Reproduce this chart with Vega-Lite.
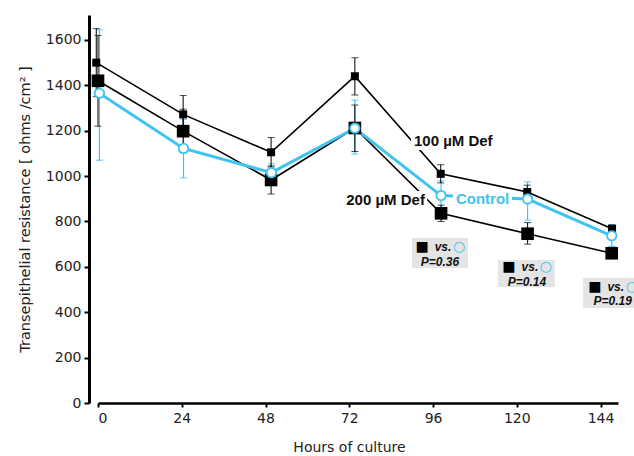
{
  "$schema": "https://vega.github.io/schema/vega-lite/v6.json",
  "width": 520,
  "height": 388,
  "autosize": {"type": "none"},
  "padding": {"left": 98, "top": 15, "right": 16, "bottom": 53},
  "config": {
    "view": {"stroke": null},
    "font": "DejaVu Sans",
    "axis": {"grid": false}
  },
  "datasets": {
    "series": [
      {"group": "100", "hours": -0.5, "mean": 1500, "lo": 1350, "hi": 1650},
      {"group": "100", "hours": 24.4, "mean": 1272, "lo": 1190, "hi": 1355},
      {"group": "100", "hours": 49.6, "mean": 1105, "lo": 1040, "hi": 1170},
      {"group": "100", "hours": 73.6, "mean": 1440, "lo": 1357, "hi": 1522},
      {"group": "100", "hours": 98.2, "mean": 1010, "lo": 970, "hi": 1050},
      {"group": "100", "hours": 123.0, "mean": 930, "lo": 900, "hi": 960},
      {"group": "100", "hours": 147.3, "mean": 768, "lo": 752, "hi": 784},
      {"group": "200", "hours": 0, "mean": 1420, "lo": 1220, "hi": 1620},
      {"group": "200", "hours": 24.4, "mean": 1198, "lo": 1103, "hi": 1295},
      {"group": "200", "hours": 49.6, "mean": 983, "lo": 921, "hi": 1045},
      {"group": "200", "hours": 73.6, "mean": 1212, "lo": 1108, "hi": 1313},
      {"group": "200", "hours": 98.3, "mean": 836, "lo": 800, "hi": 872},
      {"group": "200", "hours": 123.1, "mean": 746, "lo": 700, "hi": 795},
      {"group": "200", "hours": 147.2, "mean": 660, "lo": 655, "hi": 665},
      {"group": "Control", "hours": 0.4, "mean": 1365, "lo": 1070, "hi": 1645},
      {"group": "Control", "hours": 24.5, "mean": 1122, "lo": 993, "hi": 1250},
      {"group": "Control", "hours": 49.7, "mean": 1015, "lo": 975, "hi": 1055},
      {"group": "Control", "hours": 73.6, "mean": 1211, "lo": 1097, "hi": 1335},
      {"group": "Control", "hours": 98.3, "mean": 914, "lo": 850, "hi": 978},
      {"group": "Control", "hours": 123.1, "mean": 899, "lo": 806, "hi": 975},
      {"group": "Control", "hours": 147.2, "mean": 737, "lo": 690, "hi": 785}
    ],
    "labels": [
      {"text": "100 µM Def", "hours": 101.8, "value": 1156, "kind": "black", "bx1": 89.7, "bx2": 114.0, "by1": 1115, "by2": 1194},
      {"text": "200 µM Def", "hours": 82.4, "value": 895, "kind": "black", "bx1": 70.5, "bx2": 94.3, "by1": 860, "by2": 934},
      {"text": "Control", "hours": 110.2, "value": 899, "kind": "cyan", "bx1": 101.7, "bx2": 118.6, "by1": 859, "by2": 939}
    ],
    "boxes": [
      {"x1": 90.0, "x2": 106.0, "y1": 595, "y2": 727, "cx": 98.0, "l1": 688, "l2": 623, "p": "P=0.36"},
      {"x1": 114.6, "x2": 130.9, "y1": 511, "y2": 630, "cx": 122.9, "l1": 601, "l2": 532, "p": "P=0.14"},
      {"x1": 139.0, "x2": 155.3, "y1": 419, "y2": 551, "cx": 147.5, "l1": 513, "l2": 450, "p": "P=0.19"}
    ]
  },
  "encoding": {
    "x": {
      "field": "hours",
      "type": "quantitative",
      "scale": {"domain": [0, 149], "nice": false},
      "axis": {
        "values": [0, 24, 48, 72, 96, 120, 144],
        "title": "Hours of culture",
        "titleFont": "DejaVu Sans",
        "titleFontSize": 14,
        "titleFontWeight": "normal",
        "titleColor": "#222222",
        "titleX": 251,
        "titlePadding": 15,
        "labelFontSize": 14,
        "labelColor": "#222222",
        "labelPadding": 4,
        "domainColor": "#000000",
        "domainWidth": 2.5,
        "tickColor": "#000000",
        "tickWidth": 2,
        "tickSize": 4
      }
    }
  },
  "layer": [
    {
      "data": {"name": "boxes"},
      "mark": {"type": "rect", "color": "#e4e4e4", "clip": false},
      "encoding": {
        "x": {"field": "x1", "type": "quantitative"},
        "x2": {"field": "x2"},
        "y": {"field": "y1", "type": "quantitative", "scale": {"domain": [0, 1710], "nice": false},
          "title": "Transepithelial resistance [ ohms /cm² ]",
          "axis": {
            "values": [0, 100, 200, 300, 400, 500, 600, 700, 800, 900, 1000, 1100, 1200, 1300, 1400, 1500, 1600, 1700],
            "labelExpr": "datum.value % 200 == 0 ? datum.label : ''",
            "format": "d",
            "titleFont": "DejaVu Sans",
            "titleFontSize": 14.5,
            "titleFontWeight": "normal",
            "titleColor": "#222222",
            "titlePadding": 13,
            "labelFontSize": 14,
            "labelColor": "#222222",
            "labelPadding": 3,
            "offset": 9,
            "domainColor": "#000000",
            "domainWidth": 3,
            "tickColor": "#000000",
            "tickWidth": 2,
            "tickSize": 5
          }
        },
        "y2": {"field": "y2"}
      }
    },
    {
      "data": {"name": "series"},
      "transform": [{"filter": "datum.group == 'Control'"}],
      "mark": {"type": "errorbar", "ticks": {"color": "#3fc3ef", "size": 7, "thickness": 1.2}, "rule": {"color": "#3fc3ef", "strokeWidth": 1.2}},
      "encoding": {
        "y": {"field": "lo", "type": "quantitative", "scale": {"domain": [0, 1710], "nice": false}, "title": "Transepithelial resistance [ ohms /cm² ]"},
        "y2": {"field": "hi"}
      }
    },
    {
      "data": {"name": "series"},
      "transform": [{"filter": "datum.group != 'Control'"}],
      "mark": {"type": "errorbar", "ticks": {"color": "#000000", "size": 7, "thickness": 1}, "rule": {"color": "#000000", "strokeWidth": 1}},
      "encoding": {
        "detail": {"field": "group"},
        "y": {"field": "lo", "type": "quantitative", "scale": {"domain": [0, 1710], "nice": false}, "title": "Transepithelial resistance [ ohms /cm² ]"},
        "y2": {"field": "hi"}
      }
    },
    {
      "data": {"name": "series"},
      "transform": [{"filter": "datum.group != 'Control'"}],
      "mark": {"type": "line", "color": "#000000", "strokeWidth": 1.6},
      "encoding": {
        "detail": {"field": "group"},
        "y": {"field": "mean", "type": "quantitative", "scale": {"domain": [0, 1710], "nice": false}, "title": "Transepithelial resistance [ ohms /cm² ]"}
      }
    },
    {
      "data": {"name": "series"},
      "transform": [{"filter": "datum.group == 'Control'"}],
      "mark": {"type": "line", "color": "#3fc3ef", "strokeWidth": 3},
      "encoding": {
        "y": {"field": "mean", "type": "quantitative", "scale": {"domain": [0, 1710], "nice": false}, "title": "Transepithelial resistance [ ohms /cm² ]"}
      }
    },
    {
      "data": {"name": "labels"},
      "mark": {"type": "rect", "color": "#ffffff"},
      "encoding": {
        "x": {"field": "bx1", "type": "quantitative"},
        "x2": {"field": "bx2"},
        "y": {"field": "by1", "type": "quantitative", "scale": {"domain": [0, 1710], "nice": false}, "title": "Transepithelial resistance [ ohms /cm² ]"},
        "y2": {"field": "by2"}
      }
    },
    {
      "data": {"name": "series"},
      "transform": [{"filter": "datum.group == '100'"}],
      "mark": {"type": "point", "shape": "square", "filled": true, "color": "#000000", "size": 64, "opacity": 1},
      "encoding": {
        "y": {"field": "mean", "type": "quantitative", "scale": {"domain": [0, 1710], "nice": false}, "title": "Transepithelial resistance [ ohms /cm² ]"}
      }
    },
    {
      "data": {"name": "series"},
      "transform": [{"filter": "datum.group == '200'"}],
      "mark": {"type": "point", "shape": "square", "filled": true, "color": "#000000", "size": 160, "opacity": 1},
      "encoding": {
        "y": {"field": "mean", "type": "quantitative", "scale": {"domain": [0, 1710], "nice": false}, "title": "Transepithelial resistance [ ohms /cm² ]"}
      }
    },
    {
      "data": {"name": "series"},
      "transform": [{"filter": "datum.group == 'Control'"}],
      "mark": {"type": "point", "shape": "circle", "filled": true, "fill": "#ffffff", "stroke": "#3fc3ef", "strokeWidth": 1.8, "size": 90, "opacity": 1},
      "encoding": {
        "y": {"field": "mean", "type": "quantitative", "scale": {"domain": [0, 1710], "nice": false}, "title": "Transepithelial resistance [ ohms /cm² ]"}
      }
    },
    {
      "data": {"name": "labels"},
      "mark": {"type": "text", "fontSize": 15, "fontWeight": "bold", "font": "Liberation Sans"},
      "encoding": {
        "text": {"field": "text"},
        "color": {"field": "kind", "type": "nominal", "scale": {"domain": ["black", "cyan"], "range": ["#111111", "#3fc3ef"]}, "legend": null},
        "y": {"field": "value", "type": "quantitative", "scale": {"domain": [0, 1710], "nice": false}, "title": "Transepithelial resistance [ ohms /cm² ]"}
      }
    },
    {
      "data": {"name": "boxes"},
      "mark": {"type": "text", "text": "■", "fontSize": 14, "color": "#000000", "dx": -18, "clip": false},
      "encoding": {
        "x": {"field": "cx", "type": "quantitative"},
        "y": {"field": "l1", "type": "quantitative", "scale": {"domain": [0, 1710], "nice": false}, "title": "Transepithelial resistance [ ohms /cm² ]"}
      }
    },
    {
      "data": {"name": "boxes"},
      "mark": {"type": "text", "text": "vs.", "font": "Liberation Sans", "fontSize": 12, "fontWeight": "bold", "fontStyle": "italic", "color": "#111111", "dx": 3, "clip": false},
      "encoding": {
        "x": {"field": "cx", "type": "quantitative"},
        "y": {"field": "l1", "type": "quantitative", "scale": {"domain": [0, 1710], "nice": false}, "title": "Transepithelial resistance [ ohms /cm² ]"}
      }
    },
    {
      "data": {"name": "boxes"},
      "mark": {"type": "text", "text": "○", "fontSize": 14, "fontWeight": "bold", "color": "#3fc3ef", "dx": 19, "clip": false},
      "encoding": {
        "x": {"field": "cx", "type": "quantitative"},
        "y": {"field": "l1", "type": "quantitative", "scale": {"domain": [0, 1710], "nice": false}, "title": "Transepithelial resistance [ ohms /cm² ]"}
      }
    },
    {
      "data": {"name": "boxes"},
      "mark": {"type": "text", "font": "Liberation Sans", "fontSize": 12, "fontWeight": "bold", "fontStyle": "italic", "color": "#111111", "clip": false},
      "encoding": {
        "text": {"field": "p"},
        "x": {"field": "cx", "type": "quantitative"},
        "y": {"field": "l2", "type": "quantitative", "scale": {"domain": [0, 1710], "nice": false}, "title": "Transepithelial resistance [ ohms /cm² ]"}
      }
    }
  ]
}
